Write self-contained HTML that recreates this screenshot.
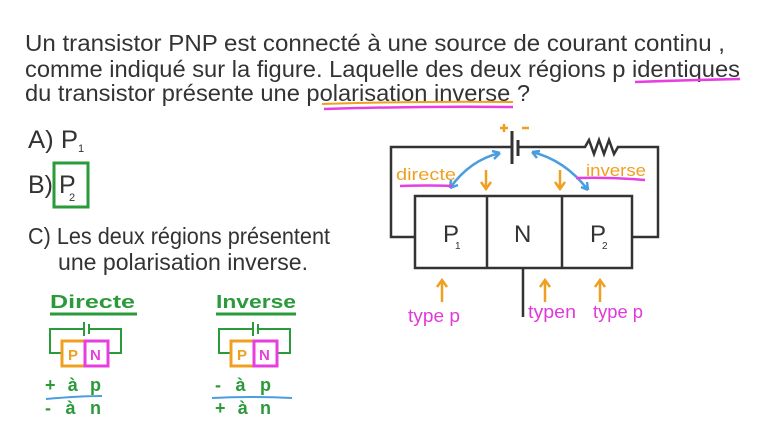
<!DOCTYPE html>
<html><head><meta charset="utf-8"><style>
html,body{margin:0;padding:0;background:#fff;}
svg{display:block}
text{font-family:"Liberation Sans",sans-serif;}
</style></head><body>
<svg width="780" height="439" viewBox="0 0 780 439" xmlns="http://www.w3.org/2000/svg">
<rect width="780" height="439" fill="#fff"/>
<g fill="#333" font-size="23">
<text x="25" y="51" textLength="700" lengthAdjust="spacingAndGlyphs">Un transistor PNP est connecté à une source de courant continu ,</text>
<text x="25" y="77" textLength="715" lengthAdjust="spacingAndGlyphs">comme indiqué sur la figure. Laquelle des deux régions p identiques</text>
<text x="25" y="101" textLength="505" lengthAdjust="spacingAndGlyphs">du transistor présente une polarisation inverse ?</text>
<text x="28" y="148" font-size="25" textLength="50" lengthAdjust="spacingAndGlyphs">A) P</text>
<text x="78" y="152" font-size="11">1</text>
<text x="28" y="193" font-size="25">B)</text>
<text x="59" y="193" font-size="25">P</text>
<text x="69" y="201" font-size="11">2</text>
<text x="28" y="244" textLength="302" lengthAdjust="spacingAndGlyphs">C) Les deux régions présentent</text>
<text x="58" y="270" textLength="250" lengthAdjust="spacingAndGlyphs">une polarisation inverse.</text>
</g>
<path d="M635 82 Q690 80 740 79" stroke="#e83ee0" stroke-width="2.5" fill="none"/>
<path d="M322 104 Q420 101 513 102" stroke="#f0a020" stroke-width="2" fill="none"/>
<path d="M324 109 Q420 106 513 107" stroke="#e83ee0" stroke-width="2.5" fill="none"/>
<rect x="54" y="163" width="34" height="44" fill="none" stroke="#2a9a3a" stroke-width="3"/>

<g stroke="#333" stroke-width="2.5" fill="none">
<path d="M415 237 H391 V147 H512 M517 147 H585 l4 -7 l5 14 l5 -14 l5 14 l5 -14 l5 14 l4 -7 H658 V237 H632"/>
<rect x="415" y="196" width="217" height="72"/>
<path d="M487 196 V268 M562 196 V268 M523 268 V317"/>
<path d="M512 131 V164" stroke-width="3"/>
<path d="M518 140 V156" stroke-width="3"/>
</g>
<g fill="#333" font-size="24">
<text x="443" y="242">P</text><text x="455" y="249" font-size="10">1</text>
<text x="514" y="242">N</text>
<text x="590" y="242">P</text><text x="602" y="249" font-size="10">2</text>
</g>
<g stroke="#f0a020" stroke-width="2.5" fill="none">
<path d="M500 128 h8 M504 124 v8 M522 128 h7"/>
<path d="M486 170 V188 M481 182 l5 7 l5 -7"/>
<path d="M560 170 V188 M555 182 l5 7 l5 -7"/>
<path d="M442 302 V280 M437 287 l5 -7 l5 7"/>
<path d="M545 302 V280 M540 287 l5 -7 l5 7"/>
<path d="M600 302 V280 M595 287 l5 -7 l5 7"/>
</g>
<g stroke="#4a9ee0" stroke-width="2.5" fill="none">
<path d="M450 188 Q470 160 500 153 M450 188 l1 -8 M450 188 l8 -3 M500 153 l-8 -2 M500 153 l-6 6"/>
<path d="M532 152 Q565 160 588 190 M532 152 l8 -1 M532 152 l5 6 M588 190 l-1 -8 M588 190 l-7 -3"/>
</g>
<text x="396" y="180" fill="#f0a020" font-size="17" textLength="60" lengthAdjust="spacingAndGlyphs">directe</text>
<path d="M400 186 Q430 185 452 186" stroke="#e83ee0" stroke-width="2.5" fill="none"/>
<text x="586" y="176" fill="#f0a020" font-size="17" textLength="60" lengthAdjust="spacingAndGlyphs">inverse</text>
<path d="M576 178 Q610 177 645 180" stroke="#e83ee0" stroke-width="2.5" fill="none"/>
<g fill="#e03ad8" font-size="18">
<text x="408" y="322" textLength="52" lengthAdjust="spacingAndGlyphs">type p</text>
<text x="528" y="318" textLength="48" lengthAdjust="spacingAndGlyphs">typen</text>
<text x="593" y="318" textLength="50" lengthAdjust="spacingAndGlyphs">type p</text>
</g>

<text x="50" y="308" fill="#2a9a3a" font-size="18" font-weight="bold" textLength="85" lengthAdjust="spacingAndGlyphs">Directe</text>
<path d="M50 314 H137" stroke="#2a9a3a" stroke-width="3"/>
<path d="M62 353 H50 V329 H84 M90 329 H121 V353 H108 M84 322 V336 M89 324 V334" stroke="#2a9a3a" stroke-width="2" fill="none"/>
<rect x="62" y="341" width="23" height="25" fill="#fff" stroke="#f0a020" stroke-width="3"/>
<rect x="85" y="341" width="23" height="25" fill="#fff" stroke="#e83ee0" stroke-width="3"/>
<text x="68" y="360" fill="#f0a020" font-size="15" font-weight="bold">P</text>
<text x="90" y="360" fill="#e83ee0" font-size="15" font-weight="bold">N</text>
<text x="45" y="391" fill="#2a9a3a" font-size="18" font-weight="bold" textLength="56" lengthAdjust="spacing">+ à p</text>
<path d="M46 399 Q80 396 102 396" stroke="#4a9ee0" stroke-width="2" fill="none"/>
<text x="45" y="414" fill="#2a9a3a" font-size="18" font-weight="bold" textLength="56" lengthAdjust="spacing">- à n</text>

<text x="216" y="308" fill="#2a9a3a" font-size="18" font-weight="bold" textLength="80" lengthAdjust="spacingAndGlyphs">Inverse</text>
<path d="M216 314 H296" stroke="#2a9a3a" stroke-width="3"/>
<path d="M231 353 H219 V329 H253 M259 329 H290 V353 H277 M253 322 V336 M258 324 V334" stroke="#2a9a3a" stroke-width="2" fill="none"/>
<rect x="231" y="341" width="23" height="25" fill="#fff" stroke="#f0a020" stroke-width="3"/>
<rect x="254" y="341" width="23" height="25" fill="#fff" stroke="#e83ee0" stroke-width="3"/>
<text x="237" y="360" fill="#f0a020" font-size="15" font-weight="bold">P</text>
<text x="259" y="360" fill="#e83ee0" font-size="15" font-weight="bold">N</text>
<text x="215" y="391" fill="#2a9a3a" font-size="18" font-weight="bold" textLength="56" lengthAdjust="spacing">- à p</text>
<path d="M212 398 Q250 396 292 398" stroke="#4a9ee0" stroke-width="2" fill="none"/>
<text x="215" y="414" fill="#2a9a3a" font-size="18" font-weight="bold" textLength="56" lengthAdjust="spacing">+ à n</text>
</svg>
</body></html>
